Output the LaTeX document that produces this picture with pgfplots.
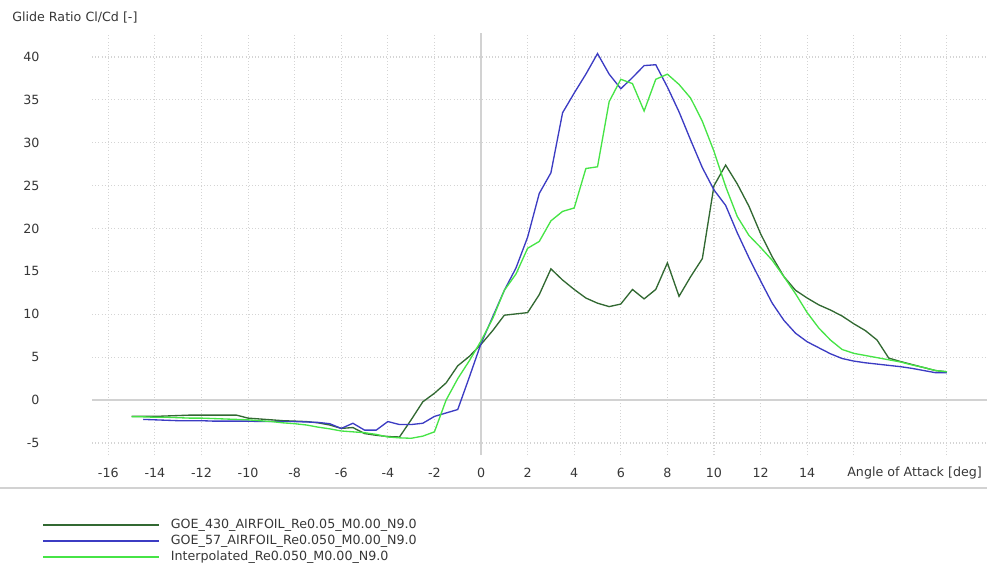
\documentclass[border=0pt]{standalone}
\usepackage{fontspec}
\setmainfont{DejaVu Sans}
\usepackage{pgfplots}
\pgfplotsset{compat=1.18}
\definecolor{cdark}{RGB}{50,105,50}
\definecolor{cblue}{RGB}{60,60,195}
\definecolor{clight}{RGB}{70,228,70}
\definecolor{cgrid}{RGB}{212,212,212}
\definecolor{czero}{RGB}{210,210,210}
\definecolor{ctext}{RGB}{55,55,55}
\begin{document}
\begin{tikzpicture}[font=\fontsize{9.5}{11}\selectfont]
\begin{axis}[
  at={(69pt,84pt)}, anchor=south west,
  scale only axis, width=671.25pt, height=316.5pt,
  xmin=-16.7, xmax=21.72, ymin=-6.4, ymax=42.8,
  axis line style={draw=none},
  tick style={draw=none},
  xtick={-16,-14,...,20},
  xticklabels={-16,-14,-12,-10,-8,-6,-4,-2,0,2,4,6,8,10,12,14,{},{},{}},
  ytick={-5,0,...,40},
  yticklabels={-5,0,5,10,15,20,25,30,35,40},
  xticklabel style={anchor=north, yshift=-6.4pt, text=ctext},
  yticklabel style={anchor=east, xshift=-35.8pt, text=ctext},
  grid=major,
  major grid style={cgrid, dotted, line width=0.8pt},
  extra x ticks={0}, extra x tick labels={},
  extra y ticks={0}, extra y tick labels={},
  extra tick style={grid=major, major grid style={czero, solid, line width=1.4pt}},
  xlabel={Angle of Attack [deg]},
  ylabel={Glide Ratio Cl/Cd [-]},
  every axis x label/.style={at={(axis description cs:0.8436,-0.0415)}, anchor=west, inner sep=0pt, text=ctext},
  every axis y label/.style={at={(axis description cs:-0.0894,1.0355)}, anchor=west, inner sep=0pt, text=ctext},
  legend cell align=left,
  legend style={at={(axis description cs:-0.0559,-0.1470)}, anchor=north west, draw=none, fill=none,
    inner sep=0pt, row sep=0pt,
    nodes={inner ysep=0.5pt, inner xsep=2pt, text height=8pt, text depth=3pt, text=ctext},
    /tikz/every odd column/.append style={column sep=6pt}},
  legend image code/.code={\draw[#1, line width=1.5pt] (0pt,0pt) -- (87pt,0pt);},
]
\addplot[cdark, line width=1pt] coordinates {
(-15,-1.9) (-14.5,-1.9) (-14,-1.9) (-13.5,-1.85) (-13,-1.8) (-12.5,-1.75) (-12,-1.75)
(-11.5,-1.75) (-11,-1.75) (-10.5,-1.75) (-10,-2.1) (-9.5,-2.2) (-9,-2.3) (-8.5,-2.4)
(-8,-2.45) (-7.5,-2.5) (-7,-2.65) (-6.5,-2.9) (-6,-3.3) (-5.5,-3.2) (-5,-3.9)
(-4.5,-4.1) (-4,-4.25) (-3.5,-4.3) (-3,-2.3) (-2.5,-0.2) (-2,0.8) (-1.5,2.0)
(-1,4.0) (-0.5,5.1) (0,6.5) (0.5,8.1) (1,9.9) (1.5,10.05) (2,10.2) (2.5,12.3)
(3,15.3) (3.5,14.0) (4,12.9) (4.5,11.9) (5,11.3) (5.5,10.9) (6,11.2) (6.5,12.9)
(7,11.8) (7.5,12.9) (8,16.0) (8.5,12.1) (9,14.4) (9.5,16.5) (10,25.0) (10.5,27.4)
(11,25.2) (11.5,22.6) (12,19.4) (12.5,16.7) (13,14.4) (13.5,12.8) (14,11.9)
(14.5,11.1) (15,10.5) (15.5,9.8) (16,8.9) (16.5,8.1) (17,7.0) (17.5,4.9) (18,4.5)
(18.5,4.15) (19,3.8) (19.5,3.45) (20,3.3)
};
\addlegendentry{GOE\_430\_AIRFOIL\_Re0.05\_M0.00\_N9.0}
\addplot[cblue, line width=1pt] coordinates {
(-14.5,-2.25) (-14,-2.3) (-13.5,-2.35) (-13,-2.4) (-12.5,-2.4) (-12,-2.4) (-11.5,-2.45)
(-11,-2.45) (-10.5,-2.45) (-10,-2.45) (-9.5,-2.5) (-9,-2.5) (-8.5,-2.5) (-8,-2.5)
(-7.5,-2.55) (-7,-2.6) (-6.5,-2.75) (-6,-3.3) (-5.5,-2.7) (-5,-3.5) (-4.5,-3.5)
(-4,-2.5) (-3.5,-2.85) (-3,-2.85) (-2.5,-2.7) (-2,-1.9) (-1.5,-1.5) (-1,-1.1)
(-0.5,2.7) (0,6.6) (0.5,9.7) (1,12.8) (1.5,15.4) (2,19.0) (2.5,24.1) (3,26.5)
(3.5,33.5) (4,35.8) (4.5,38.0) (5,40.4) (5.5,38.0) (6,36.3) (6.5,37.6) (7,39.0)
(7.5,39.1) (8,36.5) (8.5,33.6) (9,30.3) (9.5,27.1) (10,24.5) (10.5,22.7) (11,19.5)
(11.5,16.6) (12,13.9) (12.5,11.3) (13,9.3) (13.5,7.8) (14,6.8) (14.5,6.1) (15,5.4)
(15.5,4.85) (16,4.55) (16.5,4.35) (17,4.2) (17.5,4.05) (18,3.9) (18.5,3.7)
(19,3.45) (19.5,3.2) (20,3.2)
};
\addlegendentry{GOE\_57\_AIRFOIL\_Re0.050\_M0.00\_N9.0}
\addplot[clight, line width=1pt] coordinates {
(-15,-1.95) (-14.5,-1.95) (-14,-2.0) (-13.5,-2.0) (-13,-2.05) (-12.5,-2.1) (-12,-2.1)
(-11.5,-2.15) (-11,-2.2) (-10.5,-2.25) (-10,-2.3) (-9.5,-2.4) (-9,-2.5) (-8.5,-2.65)
(-8,-2.75) (-7.5,-2.9) (-7,-3.15) (-6.5,-3.35) (-6,-3.6) (-5.5,-3.7) (-5,-3.8)
(-4.5,-4.0) (-4,-4.3) (-3.5,-4.4) (-3,-4.45) (-2.5,-4.2) (-2,-3.7) (-1.5,0.0)
(-1,2.5) (-0.5,4.6) (0,6.9) (0.5,9.5) (1,12.8) (1.5,14.7) (2,17.7) (2.5,18.5)
(3,20.9) (3.5,22.0) (4,22.4) (4.5,27.0) (5,27.2) (5.5,34.8) (6,37.4) (6.5,36.9)
(7,33.7) (7.5,37.4) (8,38.0) (8.5,36.8) (9,35.2) (9.5,32.5) (10,29.0) (10.5,24.9)
(11,21.4) (11.5,19.2) (12,17.8) (12.5,16.3) (13,14.4) (13.5,12.4) (14,10.2)
(14.5,8.4) (15,7.0) (15.5,5.9) (16,5.45) (16.5,5.2) (17,4.95) (17.5,4.7) (18,4.45)
(18.5,4.1) (19,3.8) (19.5,3.45) (20,3.3)
};
\addlegendentry{Interpolated\_Re0.050\_M0.00\_N9.0}
\end{axis}
\draw[czero, line width=1.5pt] (0pt,59.25pt) -- (740.25pt,59.25pt);
\pgfresetboundingbox
\path[use as bounding box] (0pt,0pt) rectangle (740.25pt,425.25pt);
\end{tikzpicture}
\end{document}
